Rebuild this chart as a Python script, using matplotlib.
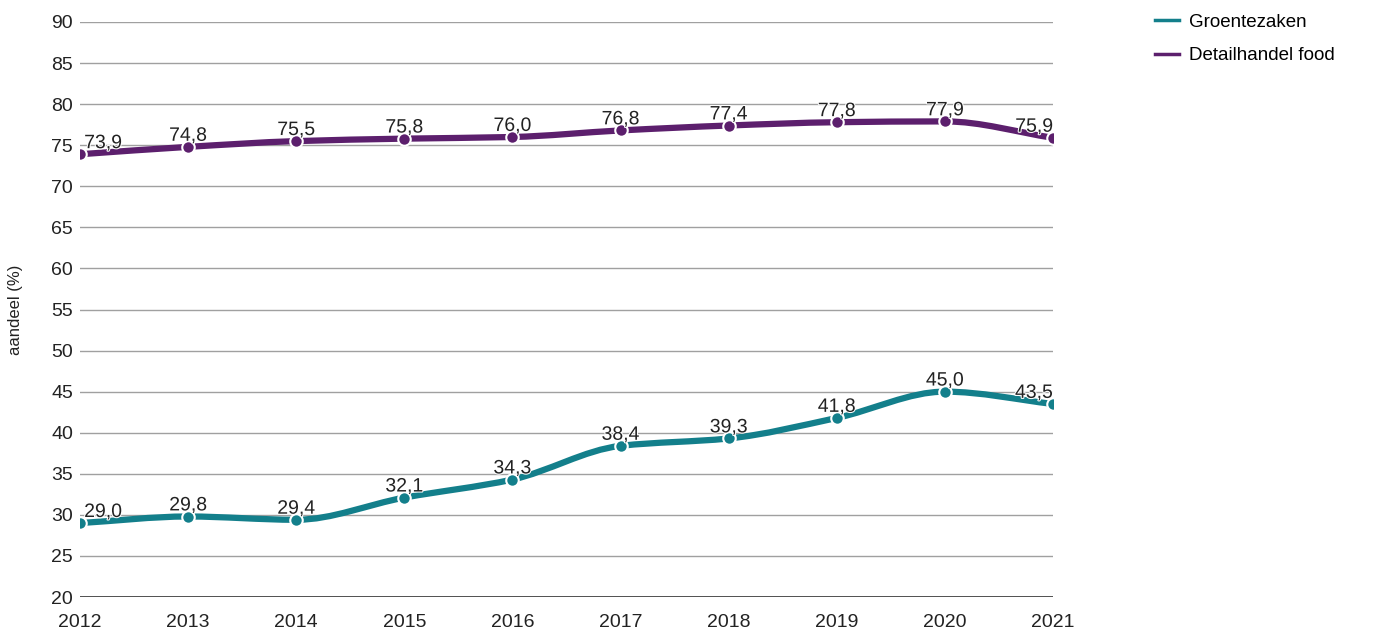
import numpy as np
import matplotlib
matplotlib.use("Agg")
import matplotlib.pyplot as plt
from matplotlib.path import Path
from matplotlib.patches import PathPatch
import matplotlib.patheffects as pe

years = [2012, 2013, 2014, 2015, 2016, 2017, 2018, 2019, 2020, 2021]
groente = [29.0, 29.8, 29.4, 32.1, 34.3, 38.4, 39.3, 41.8, 45.0, 43.5]
detail = [73.9, 74.8, 75.5, 75.8, 76.0, 76.8, 77.4, 77.8, 77.9, 75.9]
names = ["Groentezaken", "Detailhandel food"]
colors = ["#137f8b", "#5c1f6d"]

plt.rcParams["font.family"] = ["Liberation Sans", "DejaVu Sans"]

fig = plt.figure(figsize=(13.8, 6.35), dpi=100)
ax = fig.add_axes([80 / 1380, 1 - 597 / 635, (1053 - 80) / 1380, (597 - 22) / 635])


def smooth_path(x, y):
    # monotone cubic tangents -> bezier segments
    x = np.asarray(x, float); y = np.asarray(y, float)
    h = np.diff(x); d = np.diff(y) / h
    m = np.zeros(len(x))
    m[0], m[-1] = d[0], d[-1]
    for i in range(1, len(x) - 1):
        m[i] = 0 if d[i - 1] * d[i] <= 0 else 2 / (1 / d[i - 1] + 1 / d[i])
    verts = [(x[0], y[0])]
    codes = [Path.MOVETO]
    for i in range(len(x) - 1):
        verts += [(x[i] + h[i] / 3, y[i] + m[i] * h[i] / 3),
                  (x[i + 1] - h[i] / 3, y[i + 1] - m[i + 1] * h[i] / 3),
                  (x[i + 1], y[i + 1])]
        codes += [Path.CURVE4] * 3
    return Path(verts, codes)


for vals, c, name in zip([groente, detail], colors, names):
    ax.add_patch(PathPatch(smooth_path(years, vals), fill=False, edgecolor=c,
                           lw=4.5, capstyle="round", zorder=3))
    ax.plot(years, vals, "o", color=c, ms=9, mec="white", mew=1.5, zorder=4)
    ax.plot([], [], color=c, lw=2.5, label=name)
    for i, (xv, yv) in enumerate(zip(years, vals)):
        ha = "left" if i == 0 else ("right" if i == len(years) - 1 else "center")
        dx = 3 if i == 0 else 0
        t = ax.annotate(f"{yv:.1f}".replace(".", ","), (xv, yv), xytext=(dx, 1.5),
                        textcoords="offset points", ha=ha, va="bottom",
                        fontsize=14, color="#222222", zorder=5)
        t.set_path_effects([pe.withStroke(linewidth=1.5, foreground="white")])

ax.set_xlim(2012, 2021)
ax.set_ylim(20, 90)
ax.set_yticks(range(20, 91, 5))
ax.set_xticks(years)
for s in ax.spines.values():
    s.set_visible(False)
ax.tick_params(length=0, labelsize=14, colors="#222222")
ax.tick_params(axis="y", pad=5)
ax.tick_params(axis="x", pad=12)
for yv in range(25, 91, 5):
    ax.axhline(yv, color="#a0a0a0", lw=1, zorder=1)
ax.axhline(20, color="#333333", lw=1.2, zorder=1)
ax.set_ylabel("aandeel (%)", fontsize=12, color="#222222")
ax.yaxis.set_label_coords(-0.059, 0.5)

fig.legend(loc="upper left", bbox_to_anchor=(1138 / 1380, 1 + 3 / 635), frameon=False,
           fontsize=13.5, handlelength=1.3, labelspacing=0.85, handletextpad=0.5)

fig.savefig("out.png", dpi=100)
